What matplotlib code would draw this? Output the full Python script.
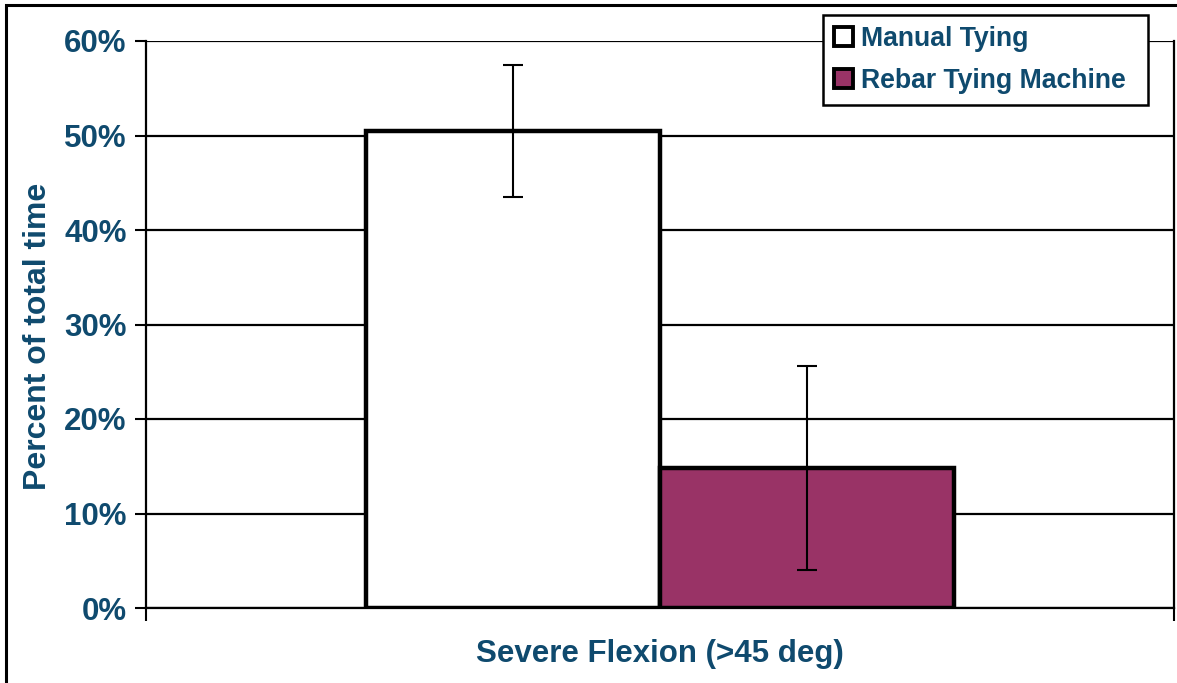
import matplotlib
matplotlib.use("Agg")
import matplotlib.pyplot as plt
from matplotlib.patches import Rectangle, Patch

categories = ["Severe Flexion (>45 deg)"]
series_names = ["Manual Tying", "Rebar Tying Machine"]
values = [50.5, 14.8]
errors = [7.0, 10.8]
bar_colors = ["#ffffff", "#993366"]
y_ticks = [0, 10, 20, 30, 40, 50, 60]
y_tick_labels = ["0%", "10%", "20%", "30%", "40%", "50%", "60%"]

TXT = "#0f4a6e"
plt.rcParams['font.family'] = ['Liberation Sans', 'DejaVu Sans']

W, H = 1177, 683
fig = plt.figure(figsize=(W / 100, H / 100), dpi=100)
ax = fig.add_axes([146 / W, (H - 608) / H, (1174 - 146) / W, (608 - 41) / H])

width = 0.2857
offsets = [-width / 2, width / 2]
handles = []
for i, (name, v, e, c) in enumerate(zip(series_names, values, errors, bar_colors)):
    ax.bar(offsets[i], v, width=width, color=c, edgecolor="black", linewidth=3.2, zorder=3)
    ax.errorbar(offsets[i], v, yerr=e, fmt="none", ecolor="black", elinewidth=1.5,
                capsize=7, capthick=1.5, zorder=4)
    handles.append(Patch(facecolor=c, edgecolor="black", linewidth=2.8, label=name))

ax.set_xlim(-0.5, 0.5)
ax.set_ylim(0, 60)
ax.set_yticks(y_ticks)
ax.set_yticklabels(y_tick_labels)
ax.yaxis.grid(True, color="black", linewidth=1.6, zorder=0)
ax.set_axisbelow(True)

ax.set_xticks([0])
ax.set_xticklabels(categories)
ax.set_xticks([-0.5, 0.5], minor=True)
ax.tick_params(axis="x", which="major", length=0, pad=22, labelsize=22.5, labelcolor=TXT)
ax.tick_params(axis="x", which="minor", length=9, width=1.5, direction="out", color="black")
ax.tick_params(axis="y", length=8, width=1.5, direction="out", pad=6, labelsize=22.5,
               labelcolor=TXT, color="black")
for lbl in ax.get_xticklabels() + ax.get_yticklabels():
    lbl.set_fontweight("bold")

ax.spines["top"].set_visible(False)
ax.spines["left"].set_linewidth(1.6)
ax.spines["right"].set_linewidth(1.6)
ax.spines["bottom"].set_linewidth(1.6)

fig.text(38 / W, 1 - 336 / H, "Percent of total time", rotation=90, ha="center", va="center",
         fontsize=23, fontweight="bold", color=TXT)

leg = fig.legend(handles=handles, loc="upper left",
                 bbox_to_anchor=(823 / W, 1 - 100 / H, 325 / W, 85 / H), mode="expand",
                 fontsize=19.2, frameon=True, fancybox=False, framealpha=1, edgecolor="black",
                 handlelength=0.72, handleheight=0.72, handletextpad=0.3, borderpad=0.42,
                 labelspacing=0.6, borderaxespad=0)
leg.get_frame().set_linewidth(1.8)
for t in leg.get_texts():
    t.set_color(TXT)
    t.set_fontweight("bold")

fig.patches.append(Rectangle((6 / W, -0.1), 1.2, 1 - 5 / H + 0.1, transform=fig.transFigure,
                             fill=False, edgecolor="black", linewidth=2.2, zorder=10))

fig.savefig("out.png", dpi=100)
